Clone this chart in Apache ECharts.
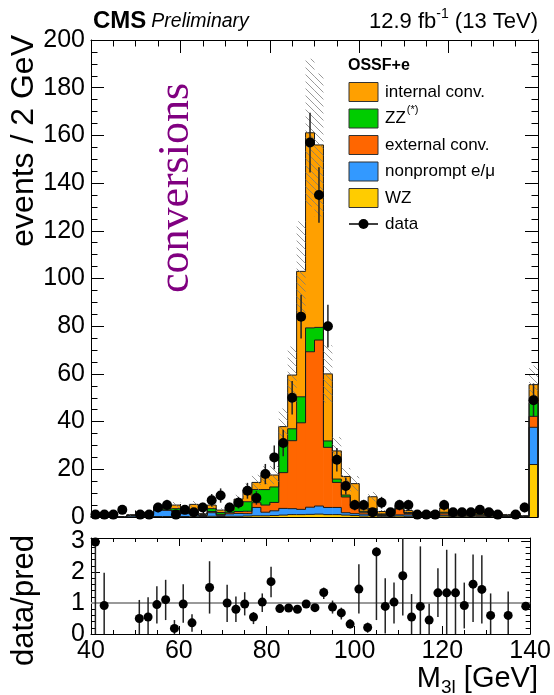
<!DOCTYPE html>
<html>
<head>
<meta charset="utf-8">
<script src="https://cdn.jsdelivr.net/npm/echarts@6/dist/echarts.min.js"></script>
<style>
html,body{margin:0;padding:0;background:#fff}
#chart{width:554px;height:695px}
</style>
</head>
<body>
<div id="chart"></div>
<script>
// Three-lepton invariant mass, OSSF+e channel, 2 GeV bins (last bin holds the overflow)
const massBins = [41,43,45,47,49,51,53,55,57,59,61,63,65,67,69,71,73,75,77,79,
                  81,83,85,87,89,91,93,95,97,99,101,103,105,107,109,111,113,115,117,119,
                  121,123,125,127,129,131,133,135,137,139];
const binWidth = 2;

// Predicted yields per bin, stacked bottom to top
const wzYield = [0,0.05,0.05,0.05,0.1,0.1,0.1,0.2,0.2,0.2,0.2,0.3,0.2,0.3,0.2,0.3,0.3,0.4,0.5,0.5,
                 0.6,0.8,1.0,1.0,1.1,1.2,1.0,1.0,0.8,0.6,0.4,0.5,0.3,0.3,0.4,0.3,0.3,0.2,0.3,0.4,
                 0.3,0.3,0.3,0.3,0.3,0.3,0.2,0.3,0.2,22.0];
const nonpromptYield = [0.1,0.3,0.1,0.1,0.6,1.2,1.0,2.8,2.6,2.0,1.2,1.0,0.4,1.5,0.5,1.0,1.2,1.0,3.5,1.5,
                        2.0,2.8,2.5,2.2,3.0,3.4,3.0,3.0,1.0,0.8,0.8,0.5,0.3,0.4,0.5,0.6,0.3,0.2,0.8,0.4,
                        0.2,0.2,0.3,0.2,0.1,0.2,0.1,0.2,0,15.6];
const extConvYield = [0,0.05,0,0,0,0.1,0.1,0.1,0.2,0.5,0.3,0.4,0.2,0.5,0.4,0.5,0.8,1.0,2.0,3.0,
                      3.5,15.0,28.5,36.3,65.2,69.6,25.2,10.5,6.6,2.5,0.8,1.5,0.4,0.5,2.5,0.6,0.4,0.2,0.3,0.8,
                      0.3,0.3,0.5,0.4,0.3,0.4,0.2,0.3,0.1,4.6];
const zzYield = [0,0.1,0,0,0.1,0.2,0.2,0.3,0.5,0.8,0.6,0.8,0.3,1.2,0.8,1.0,2.5,4.0,5.5,6.5,
                 6.5,12.3,5.0,10.9,10.0,5.3,2.7,1.4,0.8,0.6,0.4,1.0,0.3,0.3,0.5,0.4,0.3,0.2,0.3,0.4,
                 0.2,0.2,0.3,0.3,0.2,0.3,0.2,0.3,0.1,5.7];
const intConvYield = [0.2,0.3,0.1,0.05,0.1,0.4,0.4,0.8,1.0,1.5,0.8,2.8,0.3,1.5,1.0,1.2,2.7,5.0,3.0,6.0,
                      5.0,7.0,22.5,52.6,81.8,76.5,28.1,11.8,7.8,9.5,1.0,5.0,1.0,0.7,1.0,0.8,0.5,0.3,0.5,1.8,
                      0.5,0.5,0.8,0.7,0.5,0.5,0.3,0.6,0.1,7.6];

// Total uncertainty on the prediction (hatched band)
const predUnc = [0.1,0.3,0.1,0.1,0.3,0.6,0.5,1.0,1.2,1.3,0.9,1.4,0.4,1.3,0.8,1.1,1.8,2.6,3.2,3.8,
                 3.8,7.6,12,21,31,30,12,5.8,3.6,3.2,0.9,2.0,0.6,0.6,1.2,0.7,0.5,0.3,0.6,1.0,
                 0.4,0.4,0.6,0.5,0.4,0.5,0.3,0.5,0.2,8.0];

// Observed events per bin
const dataCounts = [1,1,1,3,0,1,1,4,5,1,3,2,4,7,9,4,6,11,8,18,
                    25,31,50,84,157,135,80,24,13,5,5,2,6,2,5,5,1,1,1,5,
                    2,2,2,3,2,1,0,1,4,49];

// data / prediction with its interval (null where not shown)
const ratioValues = [2.97,0.92,null,null,null,0.5,0.55,0.95,1.11,0.18,0.97,0.36,null,1.5,null,1.0,0.8,0.97,0.55,1.03,
                     1.69,0.82,0.84,0.8,0.97,0.85,1.34,0.87,0.68,0.32,1.45,0.21,2.65,0.89,1.03,1.88,0.55,0.89,0.45,1.33,
                     1.33,1.33,0.92,1.61,1.44,0.6,null,0.6,null,0.9];
const ratioLow = [0,0,null,null,null,0,0,0.34,0.45,0,0.36,0.07,null,0.66,null,0.39,0.39,0.6,0.32,0.71,
                  1.19,0.74,0.76,0.72,0.91,0.78,1.13,0.66,0.47,0.18,0.66,0.04,0.45,0.02,0.34,0.6,0,0,0,0.55,
                  0,0,0.18,0.39,0.34,0,null,0,null,0.78];
const ratioHigh = [3.1,1.98,null,null,null,1.1,1.19,1.54,1.75,0.45,1.61,0.64,null,2.35,null,1.59,1.21,1.35,0.71,1.31,
                   2.17,0.9,0.92,0.88,1.03,0.92,1.5,1.08,0.85,0.48,2.25,0.37,2.8,1.8,1.66,3.1,1.29,2.83,0.98,2.12,
                   2.72,2.6,1.66,2.57,2.54,1.31,null,1.37,null,1.0];

const layers = [
  {values: wzYield,        color: '#ffcc00'},
  {values: nonpromptYield, color: '#3399ff'},
  {values: extConvYield,   color: '#ff6600'},
  {values: zzYield,        color: '#00cc00'},
  {values: intConvYield,   color: '#ffa000'}
];

const legendEntries = [
  {label: 'internal conv.', color: '#ffa000'},
  {label: 'ZZ', sup: '(*)', color: '#00cc00'},
  {label: 'external conv.', color: '#ff6600'},
  {label: 'nonprompt e/\u03bc', color: '#3399ff'},
  {label: 'WZ', color: '#ffcc00'}
];

const FONT = '"Liberation Sans", Arial, Helvetica, sans-serif';

// ---- stacked histogram, one custom series per process ----
function stepRender(color) {
  return function (params, api) {
    const lo = api.value(0), hi = api.value(1), b = api.value(2), t = api.value(3);
    const prev = api.value(4), last = api.value(5);
    const pb = api.coord([lo, b]);
    const pt = api.coord([hi, t]);
    const yPrev = api.coord([lo, prev])[1];
    const yZero = api.coord([hi, 0])[1];
    const pts = [[pb[0], yPrev], [pb[0], pt[1]], [pt[0], pt[1]]];
    if (last) pts.push([pt[0], yZero]);
    return {
      type: 'group',
      children: [
        {type: 'rect', z2: 0,
         shape: {x: pb[0], y: pt[1], width: pt[0] - pb[0] + 0.5, height: pb[1] - pt[1]},
         style: {fill: color}},
        {type: 'polyline', z2: 5, shape: {points: pts},
         style: {stroke: '#1a1a1a', lineWidth: 1, fill: null}}
      ]
    };
  };
}

const cumulative = massBins.map(() => 0);
const stackSeries = layers.map(layer => {
  const rows = massBins.map((c, i) => {
    const bottom = cumulative[i];
    return [c - binWidth / 2, c + binWidth / 2, bottom, bottom + layer.values[i]];
  });
  rows.forEach((r, i) => { cumulative[i] = r[3]; });
  rows.forEach((r, i) => {
    r.push(i > 0 ? rows[i - 1][3] : 0);
    r.push(i === rows.length - 1 ? 1 : 0);
  });
  return {
    type: 'custom', xAxisIndex: 0, yAxisIndex: 0, z: 2, silent: true,
    data: rows, renderItem: stepRender(layer.color)
  };
});

// ---- hatched uncertainty band ----
function hatchTile() {
  const s = 7;
  const c = document.createElement('canvas');
  c.width = s; c.height = s;
  const g = c.getContext('2d');
  g.strokeStyle = 'rgba(120,120,120,0.75)';
  g.lineWidth = 1;
  for (const k of [-s, 0, s]) {
    g.beginPath(); g.moveTo(k, 0); g.lineTo(k + s, s); g.stroke();
  }
  return c;
}
const hatch = {type: 'pattern', image: hatchTile(), repeat: 'repeat'};
const bandRows = massBins.map((c, i) => [c - binWidth / 2, c + binWidth / 2,
  Math.max(0, cumulative[i] - predUnc[i]), cumulative[i] + predUnc[i]]);
const bandSeries = {
  type: 'custom', xAxisIndex: 0, yAxisIndex: 0, z: 3, silent: true, data: bandRows,
  renderItem: function (params, api) {
    const p0 = api.coord([api.value(0), api.value(2)]);
    const p1 = api.coord([api.value(1), api.value(3)]);
    return {type: 'rect', shape: {x: p0[0], y: p1[1], width: p1[0] - p0[0], height: p0[1] - p1[1]},
            style: {fill: hatch}};
  }
};

// ---- data points ----
const dataPoints = [], dataErr = [];
massBins.forEach((c, i) => {
  const n = dataCounts[i];
  if (n > 0) {
    dataPoints.push([c, n]);
    dataErr.push([c, n - Math.sqrt(n), n + Math.sqrt(n)]);
  }
});
function errRender(width) {
  return function (params, api) {
    const a = api.coord([api.value(0), api.value(1)]);
    const b = api.coord([api.value(0), api.value(2)]);
    return {type: 'line', shape: {x1: a[0], y1: a[1], x2: b[0], y2: b[1]},
            style: {stroke: '#222', lineWidth: width}};
  };
}

const ratioPoints = [], ratioErr = [];
massBins.forEach((c, i) => {
  if (ratioValues[i] !== null) {
    ratioPoints.push([c, ratioValues[i]]);
    ratioErr.push([c, ratioLow[i], ratioHigh[i]]);
  }
});

// ---- axes ----
const TICK_FONT = 25;
function xAxisDef(grid, pos, labels, tickLen) {
  return {
    type: 'value', gridIndex: grid, position: pos, min: 40, max: 140, interval: 20,
    axisLine: {show: true, onZero: false, lineStyle: {color: '#000', width: 1}},
    axisTick: {show: true, inside: true, length: tickLen, lineStyle: {color: '#000'}},
    minorTick: {show: true, splitNumber: 4, length: tickLen / 2, lineStyle: {color: '#000'}},
    splitLine: {show: false},
    axisLabel: {show: labels, fontFamily: FONT, fontSize: TICK_FONT, color: '#000', margin: 5}
  };
}
function yAxisDef(grid, pos, labels, max, interval, tickLen, minorSplit) {
  return {
    type: 'value', gridIndex: grid, position: pos, min: 0, max: max, interval: interval,
    axisLine: {show: true, onZero: false, lineStyle: {color: '#000', width: 1}},
    axisTick: {show: true, inside: true, length: tickLen, lineStyle: {color: '#000'}},
    minorTick: {show: true, splitNumber: minorSplit, length: tickLen / 2, lineStyle: {color: '#000'}},
    splitLine: {show: false},
    axisLabel: {show: labels, fontFamily: FONT, fontSize: TICK_FONT, color: '#000', margin: 6,
                formatter: v => (Number.isInteger(v) ? String(v) : '')}
  };
}

// ---- text helpers ----
const measureCtx = document.createElement('canvas').getContext('2d');
function textWidth(str, font) { measureCtx.font = font; return measureCtx.measureText(str).width; }
function textEl(str, x, y, size, opts) {
  opts = opts || {};
  return {
    type: 'text', x: x, y: y, rotation: opts.rotation || 0, silent: true, z: 10,
    style: {text: str, fontFamily: opts.family || FONT, fontSize: size,
            fontWeight: opts.weight || 'normal', fontStyle: opts.style || 'normal',
            fill: opts.color || '#000', align: opts.align || 'left',
            verticalAlign: opts.valign || 'middle'}
  };
}
// Lays out pieces of text on one line, ending at xRight; each piece may be raised or lowered
function pieceLine(pieces, xRight, y) {
  const widths = pieces.map(p => textWidth(p.t, (p.weight || 'normal') + ' ' + p.size + 'px ' + FONT));
  let x = xRight - widths.reduce((a, b) => a + b, 0);
  return pieces.map((p, k) => {
    const el = textEl(p.t, x, y + (p.dy || 0), p.size, {weight: p.weight});
    x += widths[k];
    return el;
  });
}

const graphics = [];
// header
graphics.push(textEl('CMS', 93, 21, 24, {weight: 'bold'}));
graphics.push(textEl('Preliminary', 93 + textWidth('CMS', 'bold 24px ' + FONT) + 5, 22, 19.5, {style: 'italic'}));
pieceLine([{t: '12.9 fb', size: 22}, {t: '-1', size: 14, dy: -8}, {t: ' (13 TeV)', size: 22}], 538, 22)
  .forEach(e => graphics.push(e));
// axis titles
graphics.push(textEl('events / 2 GeV', 24, 35, 32, {rotation: Math.PI / 2, align: 'right'}));
graphics.push(textEl('data/pred', 24, 535, 31, {rotation: Math.PI / 2, align: 'right'}));
pieceLine([{t: 'M', size: 29}, {t: '3l', size: 19, dy: 9}, {t: ' [GeV]', size: 29}], 538, 679)
  .forEach(e => graphics.push(e));
// annotation
graphics.push(textEl('conversions', 176, 188, 44,
  {rotation: Math.PI / 2, align: 'center', family: '"Liberation Serif", "Times New Roman", serif', color: '#800080'}));
// legend
graphics.push(textEl('OSSF+e', 348, 66, 16, {weight: 'bold'}));
const legendY = [92, 118.5, 145, 171.5, 198];
legendEntries.forEach((e, k) => {
  graphics.push({type: 'rect', silent: true, z: 10,
    shape: {x: 349, y: legendY[k] - 9.5, width: 29, height: 19},
    style: {fill: e.color, stroke: '#333', lineWidth: 1}});
  graphics.push(textEl(e.label, 385, legendY[k], 17));
  if (e.sup) {
    graphics.push(textEl(e.sup, 385 + textWidth(e.label, '17px ' + FONT) + 1, legendY[k] - 9, 11));
  }
});
graphics.push({type: 'line', silent: true, z: 10, shape: {x1: 349, y1: 224, x2: 378, y2: 224},
               style: {stroke: '#000', lineWidth: 1.5}});
graphics.push({type: 'circle', silent: true, z: 11, shape: {cx: 363.5, cy: 224, r: 5}, style: {fill: '#000'}});
graphics.push(textEl('data', 385, 224, 17));

const option = {
  animation: false,
  backgroundColor: '#fff',
  grid: [
    {left: 91, right: 16, top: 40, height: 477},
    {left: 91, right: 16, top: 538, height: 96}
  ],
  xAxis: [
    xAxisDef(0, 'bottom', false, 13),
    xAxisDef(0, 'top', false, 13),
    xAxisDef(1, 'bottom', true, 8),
    xAxisDef(1, 'top', false, 8)
  ],
  yAxis: [
    yAxisDef(0, 'left', true, 200, 20, 13, 4),
    yAxisDef(0, 'right', false, 200, 20, 13, 4),
    yAxisDef(1, 'left', true, 3.1, 1, 9, 5),
    yAxisDef(1, 'right', false, 3.1, 1, 9, 5)
  ],
  series: [
    ...stackSeries,
    bandSeries,
    {type: 'custom', xAxisIndex: 0, yAxisIndex: 0, z: 4, silent: true, data: dataErr, renderItem: errRender(1.5)},
    {type: 'scatter', xAxisIndex: 0, yAxisIndex: 0, z: 5, silent: true, data: dataPoints,
     symbol: 'circle', symbolSize: 10, itemStyle: {color: '#000', opacity: 1}},
    {type: 'line', xAxisIndex: 2, yAxisIndex: 2, z: 3, silent: true, data: [[40, 1], [140, 1]],
     showSymbol: false, symbol: 'none', lineStyle: {color: '#999', width: 2}},
    {type: 'custom', xAxisIndex: 2, yAxisIndex: 2, z: 4, silent: true, data: ratioErr, renderItem: errRender(1.5)},
    {type: 'scatter', xAxisIndex: 2, yAxisIndex: 2, z: 5, silent: true, data: ratioPoints,
     symbol: 'circle', symbolSize: 9, itemStyle: {color: '#000', opacity: 1}}
  ],
  graphic: graphics
};

const chart = echarts.init(document.getElementById('chart'), null, {renderer: 'canvas'});
chart.setOption(option);
</script>
</body>
</html>
